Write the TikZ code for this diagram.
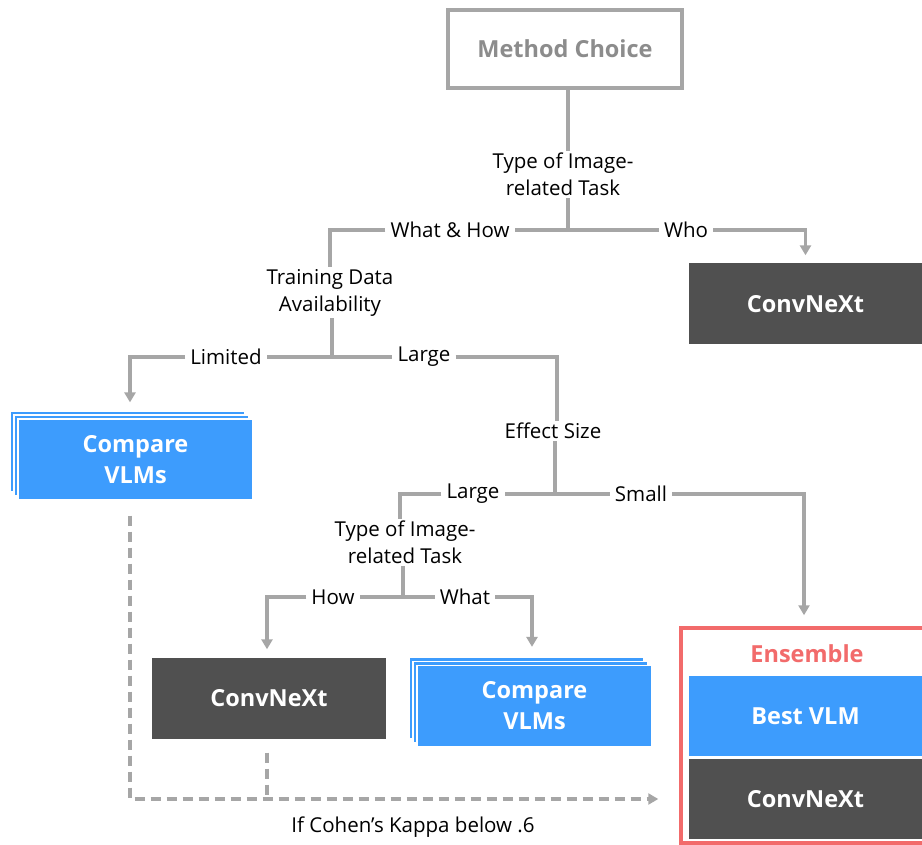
\documentclass[tikz,border=0pt]{standalone}
\usepackage{fontspec}
\setmainfont{Open Sans}
\usetikzlibrary{arrows.meta,shadows}
\definecolor{lg}{HTML}{A6A6A6}
\definecolor{mg}{HTML}{8C8C8C}
\definecolor{dg}{HTML}{505050}
\definecolor{bl}{HTML}{3D9CFD}
\definecolor{rd}{HTML}{F26B6B}
\begin{document}
\begin{tikzpicture}[x=1pt,y=-1pt,
  lbl/.style={font=\fontsize{20.5}{27}\selectfont, text=black, inner xsep=5pt, inner ysep=2pt, align=center},
  conn/.style={draw=lg, line width=3.5pt},
  arr/.style={conn, -{Triangle[length=10pt,width=11pt]}},
  dconn/.style={conn, dash pattern=on 10pt off 6pt, -{Triangle[length=10pt,width=11pt]}},
  boxtext/.style={font=\bfseries\fontsize{23.5}{31}\selectfont, text=white, align=center, inner sep=0pt},
  darkbox/.style={boxtext, fill=dg, minimum width=234pt, minimum height=81pt},
  bluebox/.style={boxtext, fill=bl, minimum width=235pt, minimum height=81pt},
  stackbox/.style={bluebox, draw=white, line width=1.2pt,
    double copy shadow={shadow xshift=-4pt, shadow yshift=4pt}},
]
\useasboundingbox[fill=white] (0,0) rectangle (922,845);

% boxes
\node[draw=lg, line width=3.5pt, minimum width=234pt, minimum height=78pt,
  font=\bfseries\fontsize{23.5}{31}\selectfont, text=mg] (mc) at (565,49) {Method Choice};
\node[darkbox, minimum width=233pt] (cnx1) at (805.5,304) {ConvNeXt};
\node[stackbox] (cmp1) at (135.5,459.5) {Compare\\VLMs};
\node[darkbox] (cnx2) at (269,698) {ConvNeXt};
\node[stackbox] (cmp2) at (534.5,706) {Compare\\VLMs};
\node[draw=rd, line width=3.5pt, minimum width=252pt, minimum height=215pt] (ens) at (807,735.5) {};
\node[font=\bfseries\fontsize{23.5}{31}\selectfont, text=rd] (enst) at (807,654) {Ensemble};
\node[bluebox, minimum width=233pt, minimum height=80pt] (bvlm) at (805.5,716) {Best VLM};
\node[darkbox, minimum width=233pt, minimum height=80pt] (cnx3) at (805.5,799) {ConvNeXt};

% labels
\node[lbl] (t1) at (563,174.5) {Type of Image-\\related Task};
\node[lbl] (wh) at (450,230) {What \& How};
\node[lbl] (who) at (686,230) {Who};
\node[lbl] (td) at (330,292.5) {Training Data\\Availability};
\node[lbl] (lim) at (226,357) {Limited};
\node[lbl] (lg1) at (424,357) {Large};
\node[lbl] (es) at (553,431) {Effect Size};
\node[lbl] (lg2) at (473,494) {Large};
\node[lbl] (sm) at (641,494) {Small};
\node[lbl] (t2) at (405,542.5) {Type of Image-\\related Task};
\node[lbl] (how) at (333,597) {How};
\node[lbl] (what) at (465,597) {What};
\node[lbl] (kap) at (413,827) {If Cohen’s Kappa below .6};

% junctions
\coordinate (j1) at (568,230);
\coordinate (j2) at (332,357);
\coordinate (j3) at (555,494);
\coordinate (j4) at (403,597);
\coordinate (d1) at (130,799);

% connectors
\draw[conn] (mc.south -| j1) -- (t1.north -| j1);
\draw[conn] (t1.south -| j1) -- (j1);
\draw[conn] (j1) -- (wh.east);
\draw[conn] (wh.west) -| (td.north);
\draw[conn] (j1) -- (who.west);
\draw[arr, shorten >=8pt] (who.east) -| (cnx1.north);

\draw[conn] (td.south -| j2) -- (j2);
\draw[conn] (j2) -- (lim.east);
\draw[arr, shorten >=16pt] (lim.west) -| (cmp1.north -| d1);
\draw[conn] (j2) -- (lg1.west);
\draw[conn] (lg1.east) -| ([xshift=4pt]es.north);

\draw[conn] (es.south -| j3) -- (j3);
\draw[conn] (j3) -- (lg2.east);
\draw[conn] (lg2.west) -| ([xshift=-5pt]t2.north);
\draw[conn] (j3) -- (sm.west);
\draw[arr, shorten >=11pt] (sm.east) -| ([xshift=-3pt]ens.north);

\draw[conn] (t2.south -| j4) -- (j4);
\draw[conn] (j4) -- (how.east);
\draw[arr, shorten >=8pt] (how.west) -| ([xshift=-2pt]cnx2.north);
\draw[conn] (j4) -- (what.west);
\draw[arr, shorten >=18pt] (what.east) -| ([xshift=-2.5pt]cmp2.north);

% dashed feedback
\draw[dconn, shorten <=15pt, shorten >=21pt] (cmp1.south -| d1) -- (d1) -- (ens.west |- d1);
\draw[conn, dash pattern=on 10pt off 6pt, shorten <=14pt] ([xshift=-2pt]cnx2.south) -- ([xshift=-2pt]cnx2.south |- d1);
\end{tikzpicture}
\end{document}
